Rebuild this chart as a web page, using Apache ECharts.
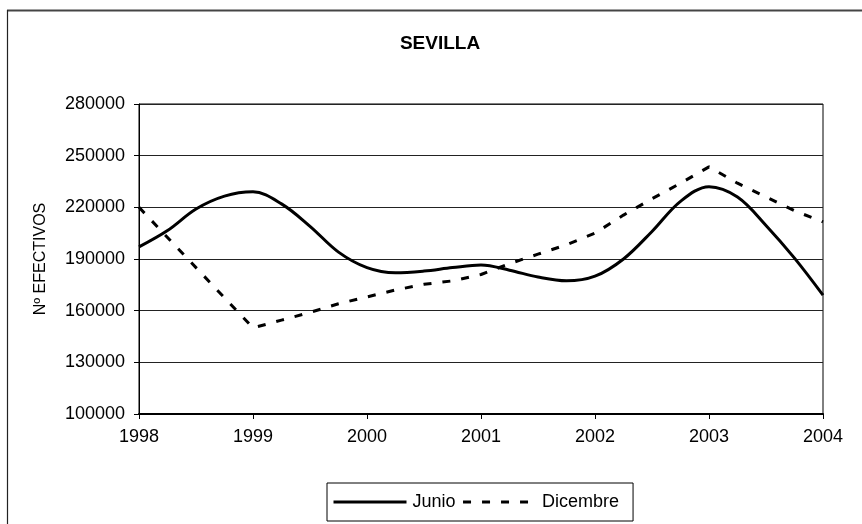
<!DOCTYPE html>
<html>
<head>
<meta charset="utf-8">
<script src="https://cdn.jsdelivr.net/npm/echarts@6/dist/echarts.min.js"></script>
<style>
html,body{margin:0;padding:0;background:#fff;}
#chart{width:862px;height:524px;}
</style>
</head>
<body>
<div id="chart"></div>
<script>
const titleText = 'SEVILLA';
const yAxisName = 'Nº EFECTIVOS';
const seriesNames = ['Junio', 'Dicembre'];
const yTicks = [100000, 130000, 160000, 190000, 220000, 250000, 280000];
const xTicks = [1998, 1999, 2000, 2001, 2002, 2003, 2004];

const junioX = [1998, 1998.25, 1998.5, 1998.75, 1999, 1999.25, 1999.5, 1999.75,
  2000, 2000.25, 2000.5, 2000.75, 2001, 2001.25, 2001.5, 2001.75,
  2002, 2002.25, 2002.5, 2002.75, 2003, 2003.25, 2003.5, 2003.75, 2004];
const junioY = [197000, 206500, 219000, 226500, 229000, 222000, 209000, 194000,
  185000, 182000, 183000, 185000, 186500, 183500, 179500, 177300,
  180000, 190000, 206000, 223500, 232000, 226000, 209500, 190500, 169000];

const dicX = [1998, 1999, 1999.25, 1999.5, 1999.75,
  2000, 2000.25, 2000.5, 2000.75, 2001, 2001.25, 2001.5, 2001.75,
  2002, 2002.25, 2002.5, 2002.75, 2003, 2003.25, 2003.5, 2003.75, 2004];
const dicY = [220000, 150000, 154500, 159000, 164000,
  168000, 172000, 175300, 177300, 181000, 187300, 192800, 198300,
  205000, 215500, 225000, 234000, 243500, 234000, 226000, 218000, 211500];

const FONT = 'Arial, "Liberation Sans", sans-serif';

const chart = echarts.init(document.getElementById('chart'), null, {renderer: 'canvas'});
chart.setOption({
  animation: false,
  backgroundColor: '#fff',
  title: {
    text: titleText,
    left: 435, top: 29, textAlign: 'center',
    textStyle: {fontFamily: FONT, fontSize: 19, fontWeight: 'bold', color: '#000'}
  },
  graphic: [
    {type: 'line', shape: {x1: 7, y1: 10.5, x2: 862, y2: 10.5}, style: {stroke: '#444', lineWidth: 2}},
    {type: 'line', shape: {x1: 7.5, y1: 10, x2: 7.5, y2: 524}, style: {stroke: '#222', lineWidth: 1.2}}
  ],
  grid: {
    left: 139, right: 39, top: 104, bottom: 110,
    show: true, borderColor: '#000', borderWidth: 1, containLabel: false
  },
  legend: {
    data: seriesNames,
    left: 327, top: 483,
    itemWidth: 73, itemHeight: 12, itemGap: 6,
    padding: [10, 14, 10, 5],
    borderColor: '#000', borderWidth: 1,
    itemStyle: {opacity: 0},
    lineStyle: {width: 3},
    textStyle: {fontFamily: FONT, fontSize: 18, color: '#000', padding: [0, 0, 0, 1]}
  },
  xAxis: {
    type: 'value', min: xTicks[0], max: xTicks[xTicks.length - 1], interval: 1,
    axisLine: {show: true, onZero: false, lineStyle: {color: '#000', width: 2}},
    axisTick: {show: true, length: 5, lineStyle: {color: '#000'}},
    axisLabel: {fontFamily: FONT, fontSize: 18, color: '#000', margin: 14,
      formatter: v => String(v)},
    splitLine: {show: false}
  },
  yAxis: {
    type: 'value', min: yTicks[0], max: yTicks[yTicks.length - 1], interval: 30000,
    name: yAxisName, nameLocation: 'middle', nameRotate: 90, nameGap: 90,
    nameTextStyle: {fontFamily: FONT, fontSize: 16, color: '#000'},
    axisLine: {show: true, lineStyle: {color: '#000', width: 1}},
    axisTick: {show: true, length: 5, lineStyle: {color: '#000'}},
    axisLabel: {fontFamily: FONT, fontSize: 18, color: '#000', margin: 14,
      formatter: v => String(v)},
    splitLine: {show: true, lineStyle: {color: '#222', width: 1}}
  },
  series: [
    {
      name: seriesNames[0], type: 'line', smooth: 0.35, symbol: 'none',
      data: junioX.map((x, i) => [x, junioY[i]]),
      lineStyle: {color: '#000', width: 3},
      itemStyle: {color: '#000'}
    },
    {
      name: seriesNames[1], type: 'line', smooth: false, symbol: 'none',
      data: dicX.map((x, i) => [x, dicY[i]]),
      lineStyle: {color: '#000', width: 3, type: [8, 11]},
      itemStyle: {color: '#000'}
    }
  ]
});
</script>
</body>
</html>
